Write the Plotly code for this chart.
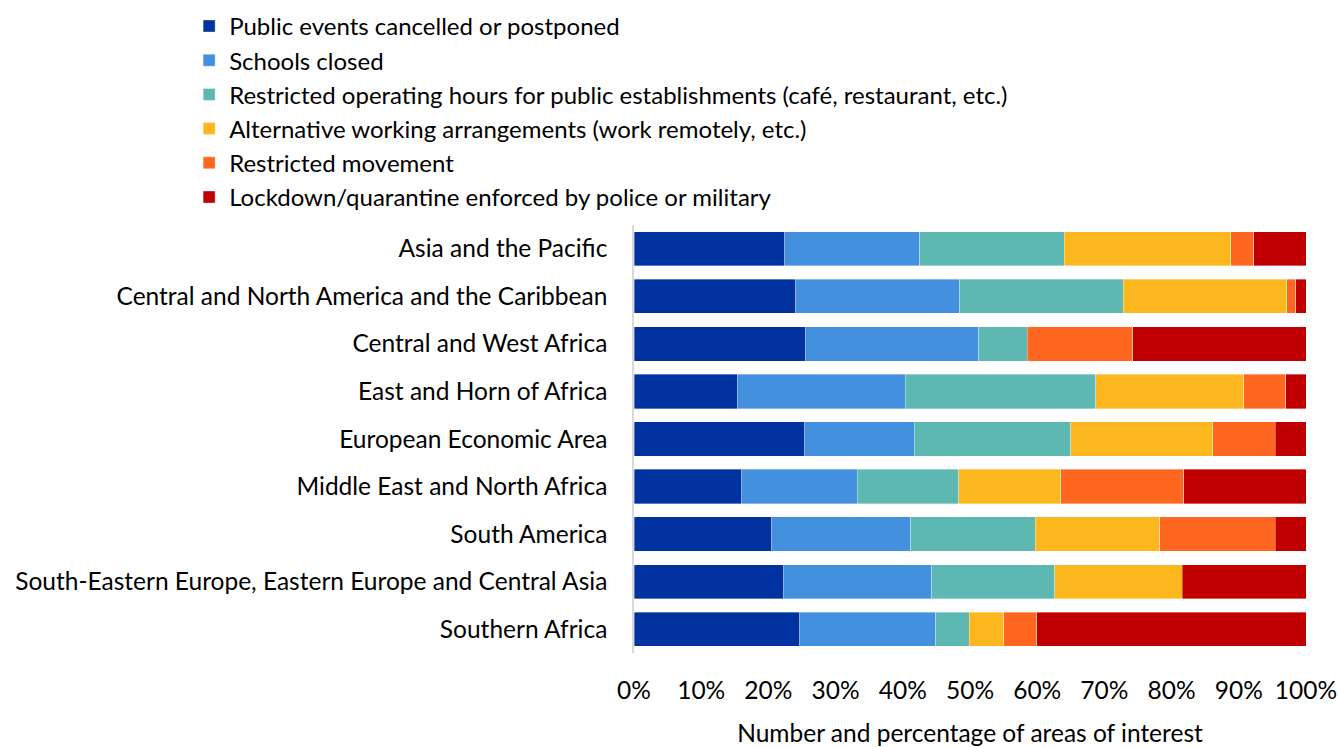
import plotly.graph_objects as go

regions = [
    "Asia and the Pacific",
    "Central and North America and the Caribbean",
    "Central and West Africa",
    "East and Horn of Africa",
    "European Economic Area",
    "Middle East and North Africa",
    "South America",
    "South-Eastern Europe, Eastern Europe and Central Asia",
    "Southern Africa",
]

public_events = [22.4, 24.1, 25.5, 15.4, 25.4, 16.0, 20.5, 22.3, 24.7]
schools_closed = [20.1, 24.4, 25.8, 25.0, 16.3, 17.2, 20.7, 22.0, 20.2]
restricted_hours = [21.5, 24.3, 7.2, 28.3, 23.3, 15.1, 18.5, 18.3, 5.0]
alt_working = [24.8, 24.3, 0.0, 22.0, 21.1, 15.2, 18.5, 19.0, 5.1]
restricted_movement = [3.4, 1.4, 15.7, 6.3, 9.3, 18.3, 17.2, 0.0, 4.9]
lockdown = [7.8, 1.5, 25.8, 3.0, 4.6, 18.2, 4.6, 18.4, 40.1]

series_names = [
    "Public events cancelled or postponed",
    "Schools closed",
    "Restricted operating hours for public establishments (café, restaurant, etc.)",
    "Alternative working arrangements (work remotely, etc.)",
    "Restricted movement",
    "Lockdown/quarantine enforced by police or military",
]
series_values = [public_events, schools_closed, restricted_hours, alt_working,
                 restricted_movement, lockdown]
colors = ["#0033A0", "#4390DF", "#5DB8B2", "#FDB71E", "#FF6720", "#C00000"]

x_ticks = [0, 10, 20, 30, 40, 50, 60, 70, 80, 90, 100]
x_tick_labels = [f"{t}%" for t in x_ticks]

FONT = "Lato"
FS = 24.5

fig = go.Figure()
for name, vals, col in zip(series_names, series_values, colors):
    fig.add_trace(go.Bar(
        y=regions, x=vals, name=name, orientation="h",
        marker=dict(color=col, line=dict(width=0.6, color="rgba(255,255,255,0.6)")),
    ))

fig.update_layout(
    barmode="stack",
    bargap=0.28,
    width=1338, height=747,
    margin=dict(l=634, r=32, t=225, b=94),
    paper_bgcolor="white", plot_bgcolor="white",
    font=dict(family=FONT, size=FS, color="#000000"),
    showlegend=True,
    legend=dict(
        xref="paper", yref="container",
        x=-0.662, y=0.9948, xanchor="left", yanchor="top",
        traceorder="normal",
        font=dict(family=FONT, size=24, color="#000000"),
        tracegroupgap=0, itemwidth=30,
        bgcolor="rgba(0,0,0,0)",
    ),
    xaxis=dict(
        range=[0, 100], tickvals=x_ticks, ticktext=x_tick_labels,
        showgrid=False, zeroline=False, showline=False, ticks="",
        automargin=False,
        ticklabelstandoff=20,
        tickfont=dict(family=FONT, size=FS, color="#000000"),
        title=dict(text="Number and percentage of areas of interest",
                   font=dict(family=FONT, size=FS, color="#000000"), standoff=24),
    ),
    yaxis=dict(
        autorange="reversed", showgrid=False, zeroline=False,
        showline=True, linecolor="#D9D9D9", linewidth=1.5,
        automargin=False,
        ticks="", ticklabelstandoff=20,
        tickfont=dict(family=FONT, size=FS, color="#000000"),
    ),
)

fig.write_html(
    "out.html",
    config={"displayModeBar": False},
    post_script="document.body.style.margin='0';document.body.style.overflow='hidden';",
)
